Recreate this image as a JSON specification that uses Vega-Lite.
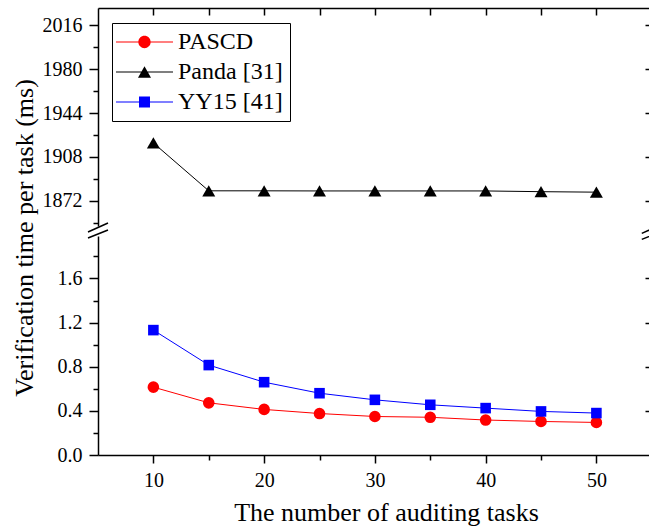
{
  "$schema": "https://vega.github.io/schema/vega-lite/v6.json",
  "autosize": {"type": "none"},
  "padding": {"left": 98, "top": 8, "right": 0, "bottom": 72},
  "width": 551,
  "height": 447,
  "background": "white",
  "config": {
    "view": {"stroke": null},
    "font": "Liberation Serif",
    "text": {"font": "Liberation Serif"},
    "axis": {
      "labelFont": "Liberation Serif", "titleFont": "Liberation Serif",
      "labelFontSize": 20, "titleFontSize": 26, "titleFontWeight": "normal",
      "labelColor": "black", "titleColor": "black",
      "domainColor": "black", "tickColor": "black",
      "domainWidth": 1.5, "tickWidth": 1.5, "grid": false,
      "labelFlush": false, "labelOverlap": false
    },
    "legend": {"labelFont": "Liberation Serif"}
  },
  "datasets": {
    "series": [
      {"task": 10, "series": "Panda [31]", "value": 1919.5},
      {"task": 15, "series": "Panda [31]", "value": 1880.3},
      {"task": 20, "series": "Panda [31]", "value": 1880.3},
      {"task": 25, "series": "Panda [31]", "value": 1880.2},
      {"task": 30, "series": "Panda [31]", "value": 1880.2},
      {"task": 35, "series": "Panda [31]", "value": 1880.2},
      {"task": 40, "series": "Panda [31]", "value": 1880.2},
      {"task": 45, "series": "Panda [31]", "value": 1879.6},
      {"task": 50, "series": "Panda [31]", "value": 1879.2},
      {"task": 10, "series": "PASCD", "value": 0.615},
      {"task": 15, "series": "PASCD", "value": 0.473},
      {"task": 20, "series": "PASCD", "value": 0.413},
      {"task": 25, "series": "PASCD", "value": 0.376},
      {"task": 30, "series": "PASCD", "value": 0.349},
      {"task": 35, "series": "PASCD", "value": 0.342},
      {"task": 40, "series": "PASCD", "value": 0.317},
      {"task": 45, "series": "PASCD", "value": 0.304},
      {"task": 50, "series": "PASCD", "value": 0.295},
      {"task": 10, "series": "YY15 [41]", "value": 1.132},
      {"task": 15, "series": "YY15 [41]", "value": 0.815},
      {"task": 20, "series": "YY15 [41]", "value": 0.66},
      {"task": 25, "series": "YY15 [41]", "value": 0.56},
      {"task": 30, "series": "YY15 [41]", "value": 0.5},
      {"task": 35, "series": "YY15 [41]", "value": 0.455},
      {"task": 40, "series": "YY15 [41]", "value": 0.425},
      {"task": 45, "series": "YY15 [41]", "value": 0.395},
      {"task": 50, "series": "YY15 [41]", "value": 0.38}
    ],
    "breaks": [
      {"task": 5, "value": 2.033},
      {"task": 55, "value": 2.02}
    ]
  },
  "resolve": {"scale": {"y": "independent"}, "axis": {"x": "independent", "y": "independent"}},
  "layer": [
    {
      "data": {"name": "series"},
      "transform": [{"filter": "datum.series === 'Panda [31]'"}],
      "mark": {"type": "line", "color": "black", "strokeWidth": 1},
      "encoding": {
        "x": {"field": "task", "type": "quantitative", "scale": {"domain": [5, 54.75], "nice": false, "zero": false},
              "axis": {"orient": "top", "values": [10, 15, 20, 25, 30, 35, 40, 45, 50], "tickSize": -7, "labels": false, "title": null}},
        "y": {"field": "value", "type": "quantitative", "scale": {"domain": [1851.5, 2030], "range": [218, 0], "nice": false, "zero": false},
              "axis": {"orient": "left", "values": [1872, 1908, 1944, 1980, 2016], "format": "d", "tickSize": 9, "labelPadding": 7, "title": null,
                       "labelFont": "Liberation Serif", "labelFontSize": 20}}
      }
    },
    {
      "data": {"name": "series"},
      "transform": [{"filter": "datum.series === 'Panda [31]'"}],
      "mark": {"type": "point", "shape": "triangle-up", "filled": true, "size": 169, "color": "black", "opacity": 1},
      "encoding": {
        "x": {"field": "task", "type": "quantitative", "axis": null},
        "y": {"field": "value", "type": "quantitative", "scale": {"domain": [1851.5, 2030], "range": [218, 0], "nice": false, "zero": false},
              "axis": {"orient": "left", "values": [1854, 1890, 1926, 1962, 1998], "tickSize": 5, "labels": false, "domain": false, "title": null}}
      }
    },
    {
      "data": {"name": "series"},
      "transform": [{"filter": "datum.series === 'PASCD'"}],
      "mark": {"type": "line", "color": "#FF0000", "strokeWidth": 1},
      "encoding": {
        "x": {"field": "task", "type": "quantitative",
              "axis": {"orient": "bottom", "values": [10, 20, 30, 40, 50], "format": "d", "tickSize": 8, "labelPadding": 7,
                       "labelFont": "Liberation Serif", "labelFontSize": 20,
                       "title": "The number of auditing tasks", "titleFont": "Liberation Serif", "titleFontSize": 26,
                       "titleX": 288, "titleY": 65, "titleAlign": "center", "titleBaseline": "alphabetic"}},
        "y": {"field": "value", "type": "quantitative", "scale": {"domain": [0, 1.985], "range": [447, 228], "nice": false, "zero": false},
              "axis": {"orient": "left", "values": [0, 0.4, 0.8, 1.2, 1.6], "format": ".1f", "tickSize": 9, "labelPadding": 7,
                       "labelFont": "Liberation Serif", "labelFontSize": 20,
                       "title": "Verification time per task (ms)", "titleFont": "Liberation Serif", "titleFontSize": 26,
                       "titleX": -66, "titleY": 229.5, "titleAngle": -90, "titleAlign": "center", "titleBaseline": "alphabetic"}}
      }
    },
    {
      "data": {"name": "series"},
      "transform": [{"filter": "datum.series === 'PASCD'"}],
      "mark": {"type": "point", "shape": "circle", "filled": true, "size": 135, "color": "#FF0000", "opacity": 1},
      "encoding": {
        "x": {"field": "task", "type": "quantitative",
              "axis": {"orient": "bottom", "values": [15, 25, 35, 45], "tickSize": 5, "labels": false, "domain": false, "title": null}},
        "y": {"field": "value", "type": "quantitative", "scale": {"domain": [0, 1.985], "range": [447, 228], "nice": false, "zero": false},
              "axis": {"orient": "left", "values": [0.2, 0.6, 1.0, 1.4, 1.8], "tickSize": 5, "labels": false, "domain": false, "title": null}}
      }
    },
    {
      "data": {"name": "series"},
      "transform": [{"filter": "datum.series === 'YY15 [41]'"}],
      "mark": {"type": "line", "color": "#0000FF", "strokeWidth": 1},
      "encoding": {
        "x": {"field": "task", "type": "quantitative", "axis": null},
        "y": {"field": "value", "type": "quantitative", "scale": {"domain": [0, 1.985], "range": [447, 228], "nice": false, "zero": false},
              "axis": {"orient": "right", "values": [0.4, 0.8, 1.2, 1.6], "tickSize": -4, "labels": false, "domain": false, "title": null}}
      }
    },
    {
      "data": {"name": "series"},
      "transform": [{"filter": "datum.series === 'YY15 [41]'"}],
      "mark": {"type": "point", "shape": "square", "filled": true, "size": 112, "color": "#0000FF", "opacity": 1},
      "encoding": {
        "x": {"field": "task", "type": "quantitative", "axis": null},
        "y": {"field": "value", "type": "quantitative", "scale": {"domain": [0, 1.985], "range": [447, 228], "nice": false, "zero": false}, "axis": null}
      }
    },
    {
      "data": {"name": "series"},
      "transform": [{"filter": "false"}],
      "mark": {"type": "point", "filled": true, "opacity": 1},
      "encoding": {
        "x": {"field": "task", "type": "quantitative", "axis": null},
        "y": {"field": "value", "type": "quantitative", "scale": {"domain": [1851.5, 2030], "range": [218, 0], "nice": false, "zero": false},
              "axis": {"orient": "right", "values": [1872, 1908, 1944, 1980, 2016], "tickSize": -4, "labels": false, "domain": false, "title": null}},
        "color": {"field": "series", "type": "nominal",
                  "scale": {"domain": ["PASCD", "Panda [31]", "YY15 [41]"], "range": ["#FF0000", "#000000", "#0000FF"]},
                  "legend": {"title": null, "orient": "none", "legendX": 14, "legendY": 15, "padding": 7,
                             "strokeColor": "black", "fillColor": "white", "labelFont": "Liberation Serif", "labelFontSize": 24,
                             "labelColor": "black", "symbolSize": 576, "symbolStrokeWidth": 0, "rowPadding": 6, "labelOffset": 35, "symbolOpacity": 1}},
        "shape": {"field": "series", "type": "nominal",
                  "scale": {"domain": ["PASCD", "Panda [31]", "YY15 [41]"],
                            "range": [
                              "M-1.25,-0.045H3.5V0.045H-1.25Z M1.638,0A0.513,0.513,0,1,1,0.612,0A0.513,0.513,0,1,1,1.638,0Z",
                              "M-1.25,-0.045H3.5V0.045H-1.25Z M1.125,-0.47L1.667,0.47L0.583,0.47Z",
                              "M-1.25,-0.045H3.5V0.045H-1.25Z M0.667,-0.458H1.583V0.458H0.667Z"
                            ]},
                  "legend": {"title": null, "orient": "none", "legendX": 14, "legendY": 15, "padding": 7,
                             "strokeColor": "black", "fillColor": "white", "labelFont": "Liberation Serif", "labelFontSize": 24,
                             "labelColor": "black", "symbolSize": 576, "symbolStrokeWidth": 0, "rowPadding": 6, "labelOffset": 35, "symbolOpacity": 1}}
      }
    },
    {
      "data": {"name": "breaks"},
      "mark": {"type": "point", "shape": "M-1,0.125L1,-0.775M-1,0.725L1,-0.075", "filled": false, "size": 400, "color": "black", "strokeWidth": 1.5, "opacity": 1},
      "encoding": {
        "x": {"field": "task", "type": "quantitative", "axis": null},
        "y": {"field": "value", "type": "quantitative", "scale": {"domain": [0, 1.985], "range": [447, 228], "nice": false, "zero": false}, "axis": null}
      }
    }
  ]
}
